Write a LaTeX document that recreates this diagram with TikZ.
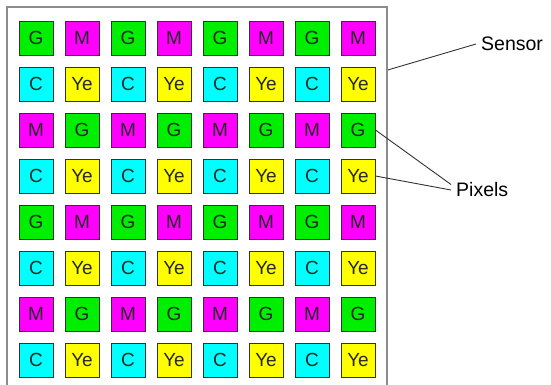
\documentclass[tikz,border=0pt]{standalone}
\usepackage{fontspec}
\setmainfont{Liberation Sans}
\usetikzlibrary{positioning}

\definecolor{pixG}{HTML}{00EE00}
\definecolor{pixM}{HTML}{FF00FF}
\definecolor{pixC}{HTML}{00FFFF}
\definecolor{pixYe}{HTML}{FFFF00}

% colour filter pattern, two cells per row, four rows
\newcommand{\pixlabel}[1]{\ifcase#1 G\or M\or C\or Ye\or M\or G\or C\or Ye\fi}

\tikzset{
    pixel/.style={draw=black!80, line width=0.9pt, minimum size=34pt, inner sep=0pt,
        font=\fontsize{19}{19}\selectfont, text=black!85},
    callout/.style={font=\fontsize{19.5}{20}\selectfont, inner sep=5pt},
    leader/.style={draw=black!80, line width=0.9pt}
}

\begin{document}
\begin{tikzpicture}[x=1pt, y=-1pt]
    \useasboundingbox (0, 0) rectangle (551, 385);
    % sensor frame
    \node[draw=black!45, line width=1.5pt, minimum width=380pt, minimum height=380pt,
        inner sep=0pt] (frame) at (197, 197) {};
    % pixels
    \foreach \r in {1,...,8} {
        \foreach \c in {1,...,8} {
            \pgfmathtruncatemacro{\k}{mod(\r-1,4)*2+mod(\c-1,2)}
            \edef\lbl{\pixlabel{\k}}
            \node[pixel, fill=pix\lbl] (p-\r-\c) at ({36+46*(\c-1)}, {38+46*(\r-1)}) {\lbl};
        }
    }
    % labels
    \node[callout, anchor=west] (sensor) at (476, 44) {Sensor};
    \node[callout, anchor=west] (pixels) at (451, 190) {Pixels};
    \draw[leader] (frame.east |- 0, 70) -- (sensor.west);
    \draw[leader] (p-3-8.east) -- (pixels.170);
    \draw[leader] (p-4-8.east) -- (pixels.west);
\end{tikzpicture}
\end{document}
